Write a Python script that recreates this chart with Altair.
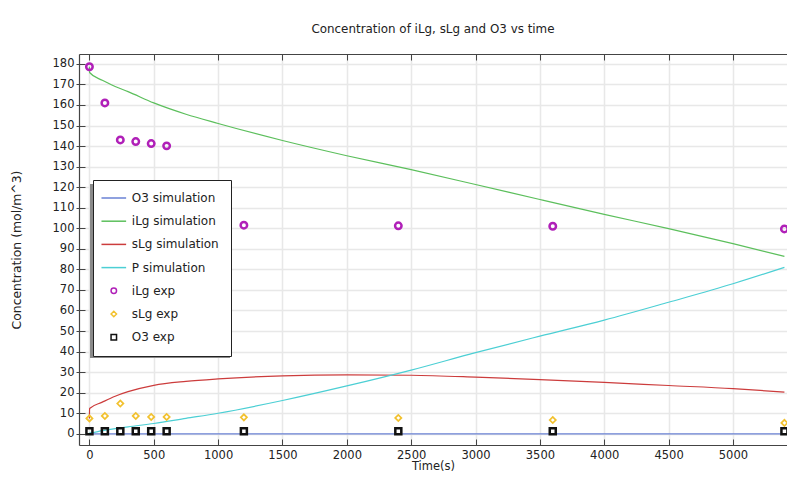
import altair as alt
import pandas as pd

# ---------------- data ----------------
series_names = ["O3 simulation", "iLg simulation", "sLg simulation", "P simulation",
                "iLg exp", "sLg exp", "O3 exp"]
series_colors = ["#6a82d4", "#5cbf5c", "#cc3c3c", "#4ccfd4", "#b020b8", "#f2c12e", "#111111"]
series_shapes = ["M-4.5,0H4.5", "M-4.5,0H4.5", "M-4.5,0H4.5", "M-4.5,0H4.5",
                 "circle", "diamond", "square"]

sim_t   = [0, 1, 100, 200, 300, 500, 750, 1000, 1500, 2000, 2500, 3000, 3500, 4000, 4500, 5000, 5400]
o3_sim  = [0.0, 0.0, 0.0, 0.0, 0.0, 0.0, 0.0, 0.0, 0.0, 0.0, 0.0, 0.0, 0.0, 0.0, 0.0, 0.0, 0.0]
ilg_sim = [178.6, 175.8, 172.0, 169.0, 166.5, 161.0, 155.5, 151.0, 142.7, 135.3, 128.5, 121.3, 114.0, 106.8, 99.8, 92.5, 86.3]
slg_sim = [7.5, 12.3, 15.4, 18.3, 20.5, 23.6, 25.5, 26.7, 28.2, 28.7, 28.5, 27.6, 26.4, 25.0, 23.5, 22.0, 20.3]
p_sim   = [0.5, 0.5, 1.5, 2.5, 3.4, 5.0, 7.5, 10.0, 16.2, 23.3, 31.0, 39.5, 47.5, 55.3, 64.0, 73.0, 81.0]

exp_t   = [0, 120, 240, 360, 480, 600, 1200, 2400, 3600, 5400]
ilg_exp = [178.6, 161.0, 143.0, 142.2, 141.2, 140.1, 101.5, 101.2, 101.0, 99.7]
slg_exp = [7.5, 8.7, 14.7, 8.7, 8.2, 8.2, 8.0, 7.7, 6.7, 5.3]
o3_exp  = [1.2, 1.2, 1.2, 1.2, 1.2, 1.2, 1.2, 1.2, 1.2, 1.2]

x_ticks = [0, 500, 1000, 1500, 2000, 2500, 3000, 3500, 4000, 4500, 5000]
y_ticks = list(range(0, 181, 10))

# ---------------- tables ----------------
sim_rows = []
for name, vals in [("O3 simulation", o3_sim), ("iLg simulation", ilg_sim),
                   ("sLg simulation", slg_sim), ("P simulation", p_sim)]:
    for t, v in zip(sim_t, vals):
        sim_rows.append({"t": t, "c": v, "series": name})
sim_df = pd.DataFrame(sim_rows)

def exp_df(name, vals):
    return pd.DataFrame({"t": exp_t, "c": vals, "series": name})

W, H = 708, 391
FONT = "DejaVu Sans"
TXT = "#222222"

xscale = alt.Scale(domain=[-81, 5420], nice=False, zero=False)
yscale = alt.Scale(domain=[-5.45, 184.8], nice=False, zero=False)
color_scale = alt.Scale(domain=series_names, range=series_colors)
shape_scale = alt.Scale(domain=series_names, range=series_shapes)

legend = alt.Legend(title=None, orient="none", legendX=14, legendY=126,
                    fillColor="white", strokeColor="#222222",
                    padding=12, rowPadding=11.2, labelFont=FONT, labelFontSize=12,
                    labelColor=TXT, labelOffset=12, symbolOffset=2.8, symbolSize=30,
                    symbolStrokeWidth=1.5, cornerRadius=0)

x_main = alt.Axis(orient="bottom", values=x_ticks, format="d", title="Time(s)", grid=True,
                  gridColor="#e8e8e8", gridWidth=1.5, ticks=False, tickSize=0,
                  labelPadding=4, domain=True, domainColor="#444444", domainWidth=1.2,
                  labelFont=FONT, labelFontSize=11.5, labelColor=TXT,
                  titleFont=FONT, titleFontSize=11.5, titleFontWeight="normal",
                  titleColor=TXT, titleY=24.5, titleBaseline="alphabetic", labelFlush=False)
y_main = alt.Axis(orient="left", values=y_ticks, format="d", title="Concentration (mol/m^3)",
                  grid=True, gridColor="#e8e8e8", gridWidth=1.5, ticks=True, tickSize=3,
                  tickColor="#444444", labelPadding=2, domain=True, domainColor="#444444",
                  domainWidth=1.2, labelFont=FONT, labelFontSize=11.5, labelColor=TXT,
                  titleFont=FONT, titleFontSize=12.4, titleFontWeight="normal",
                  titleColor=TXT, titlePadding=29)
# inward ticks at the bottom edge and at the left edge
x_in_bottom = alt.Axis(orient="top", offset=-H, values=x_ticks, labels=False, title=None,
                       grid=False, domain=False, ticks=True, tickSize=6, tickColor="#444444")
y_in_left = alt.Axis(orient="right", offset=-W, values=y_ticks, labels=False, title=None,
                     grid=False, domain=False, ticks=True, tickSize=6, tickColor="#444444")
# top border with inward ticks
x_top = alt.Axis(orient="bottom", offset=-H, values=x_ticks, labels=False, title=None,
                 grid=False, domain=True, domainColor="#444444", domainWidth=1.2,
                 ticks=True, tickSize=6, tickColor="#444444")

lines = alt.Chart(sim_df).mark_line(strokeWidth=1.2, interpolate="monotone").encode(
    x=alt.X("t:Q", scale=xscale, axis=x_main),
    y=alt.Y("c:Q", scale=yscale, axis=y_main),
    color=alt.Color("series:N", scale=color_scale, legend=legend),
    strokeWidth=alt.condition(alt.datum.series == "O3 simulation", alt.value(2.2), alt.value(1.2)),
)

guide1 = alt.Chart(sim_df).mark_line(opacity=0).encode(
    x=alt.X("t:Q", scale=xscale, axis=x_in_bottom),
    y=alt.Y("c:Q", scale=yscale, axis=y_in_left),
)
guide2 = alt.Chart(sim_df).mark_line(opacity=0).encode(
    x=alt.X("t:Q", scale=xscale, axis=x_top),
    y=alt.Y("c:Q", scale=yscale, axis=None),
)

def pts(name, vals, size, sw):
    return alt.Chart(exp_df(name, vals)).mark_point(filled=False, size=size, strokeWidth=sw, opacity=1).encode(
        x=alt.X("t:Q", scale=xscale, axis=None),
        y=alt.Y("c:Q", scale=yscale, axis=None),
        color=alt.Color("series:N", scale=color_scale, legend=legend),
        shape=alt.Shape("series:N", scale=shape_scale, legend=legend),
    )

p_ilg = pts("iLg exp", ilg_exp, 42, 2.5)
p_slg = pts("sLg exp", slg_exp, 38, 1.7)
p_o3 = pts("O3 exp", o3_exp, 36, 2.5)

shadow = alt.Chart(pd.DataFrame({"k": [0]})).mark_rect(color="#8a8a8a").encode(
    x=alt.value(11), x2=alt.value(151), y=alt.value(130), y2=alt.value(304)
)

chart = alt.layer(lines, guide1, guide2, p_ilg, p_slg, p_o3, shadow).resolve_axis(
    x="independent", y="independent"
).properties(
    width=W, height=H,
    title=alt.TitleParams("Concentration of iLg, sLg and O3 vs time", font=FONT,
                          fontSize=11.9, fontWeight="normal", color=TXT,
                          anchor="middle", offset=18),
    autosize=alt.AutoSizeParams(type="none"),
    padding={"left": 71, "top": 46, "right": 0, "bottom": 27},
).configure_view(stroke=None).configure(background="white")

chart.save("out.html", embed_options={"renderer": "svg", "actions": False})
